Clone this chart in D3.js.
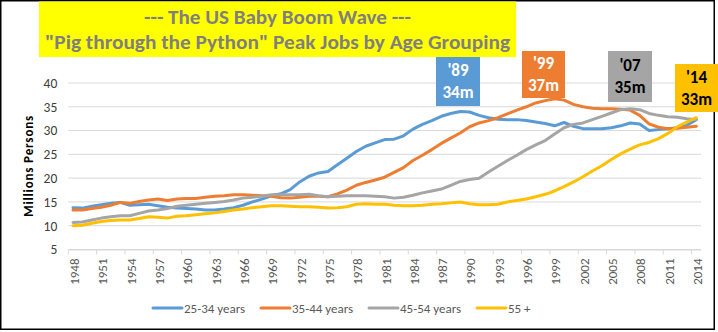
<!DOCTYPE html>
<html>
<head>
<meta charset="utf-8">
<script src="https://cdn.jsdelivr.net/npm/d3@7"></script>
<style>
  body { margin: 0; background: #fff; }
  svg { display: block; font-family: Carlito, Lato, "Open Sans", sans-serif; }
</style>
</head>
<body>
<div id="chart"></div>
<script>
// years on the category axis
const years = d3.range(1948, 2015);
const yTicks = [5, 10, 15, 20, 25, 30, 35, 40];

// employment by age group, millions
const age25to34 = [13.8, 13.7, 14.1, 14.4, 14.7, 14.9, 14.3, 14.4, 14.5, 14.2,
  13.9, 13.7, 13.6, 13.5, 13.3, 13.3, 13.5, 13.8, 14.3, 15.0,
  15.6, 16.3, 16.7, 17.6, 19.2, 20.4, 21.1, 21.4, 22.8, 24.2,
  25.6, 26.7, 27.4, 28.1, 28.2, 28.9, 30.3, 31.3, 32.1, 33.0,
  33.6, 34.0, 33.9, 33.2, 32.7, 32.4, 32.3, 32.3, 32.1, 31.8,
  31.5, 31.0, 31.7, 30.9, 30.4, 30.4, 30.4, 30.6, 31.0, 31.6,
  31.4, 30.0, 30.2, 30.4, 30.6, 31.1, 32.3];
const age35to44 = [13.3, 13.3, 13.6, 13.9, 14.3, 14.9, 14.7, 15.1, 15.4, 15.6,
  15.3, 15.6, 15.7, 15.7, 16.0, 16.2, 16.3, 16.5, 16.5, 16.4,
  16.3, 16.2, 15.9, 15.8, 16.0, 16.2, 16.2, 16.1, 16.7, 17.5,
  18.5, 19.1, 19.6, 20.2, 21.2, 22.2, 23.7, 24.8, 26.0, 27.3,
  28.4, 29.5, 30.8, 31.6, 32.1, 32.7, 33.5, 34.3, 35.0, 35.8,
  36.3, 36.7, 36.4, 35.5, 35.0, 34.7, 34.6, 34.6, 34.5, 34.3,
  33.2, 31.4, 30.7, 30.4, 30.5, 30.7, 30.9];
const age45to54 = [10.7, 10.8, 11.2, 11.6, 11.9, 12.1, 12.1, 12.6, 13.1, 13.3,
  13.6, 14.1, 14.3, 14.5, 14.7, 14.9, 15.1, 15.4, 15.8, 16.0,
  16.2, 16.5, 16.5, 16.5, 16.5, 16.6, 16.3, 16.1, 16.2, 16.3,
  16.3, 16.3, 16.2, 16.1, 15.8, 16.0, 16.4, 16.9, 17.3, 17.7,
  18.5, 19.3, 19.7, 20.0, 21.3, 22.5, 23.7, 24.8, 26.0, 27.0,
  27.9, 29.3, 30.6, 31.3, 31.6, 32.3, 33.0, 33.7, 34.4, 34.6,
  34.4, 33.6, 33.2, 32.9, 32.8, 32.5, 32.3];
const age55plus = [10.0, 10.1, 10.5, 10.9, 11.1, 11.2, 11.2, 11.5, 11.9, 11.8,
  11.6, 12.0, 12.1, 12.3, 12.5, 12.7, 13.0, 13.3, 13.5, 13.8,
  14.0, 14.2, 14.2, 14.1, 14.0, 14.0, 13.9, 13.7, 13.8, 14.0,
  14.5, 14.6, 14.5, 14.5, 14.3, 14.2, 14.2, 14.3, 14.5, 14.6,
  14.8, 15.0, 14.6, 14.4, 14.4, 14.5, 15.0, 15.3, 15.6, 16.1,
  16.6, 17.3, 18.2, 19.2, 20.3, 21.5, 22.6, 23.9, 25.1, 26.1,
  27.0, 27.5, 28.3, 29.4, 30.8, 31.8, 32.7];

const seriesNames = ["25-34 years", "35-44 years", "45-54 years", "55 +"];
const seriesValues = [age25to34, age35to44, age45to54, age55plus];
const seriesColors = ["#5b9bd5", "#ed7d31", "#a5a5a5", "#ffc000"];

// peak callouts
const peakYears = ["'89", "'99", "'07", "'14"];
const peakValues = ["34m", "37m", "35m", "33m"];
const peakText = ["#fff", "#fff", "#000", "#000"];

const titleLines = ["--- The US Baby Boom Wave ---",
  "\"Pig through the Python\" Peak Jobs by Age Grouping"];

let W = 718, H = 332;
let plot = { left: 68.3, right: 701, top: 83, bottom: 249.5 };

let svg = d3.select("#chart").append("svg")
    .attr("width", W)
    .attr("height", H);

let x = d3.scaleBand().domain(years).range([plot.left, plot.right]),
    y = d3.scaleLinear().domain([5, 40]).range([plot.bottom, plot.top]);

// gridlines
svg.append("g").selectAll("line")
    .data(yTicks)
    .enter().append("line")
    .attr("x1", plot.left).attr("x2", plot.right)
    .attr("y1", d => y(d)).attr("y2", d => y(d))
    .attr("stroke", "#d9d9d9").attr("stroke-width", 1);

// y axis labels
let yAxis = d3.axisLeft(y).tickValues(yTicks).tickSize(0).tickPadding(11);
let gy = svg.append("g")
    .attr("transform", "translate(" + plot.left + ",0)")
    .call(yAxis);
gy.select(".domain").remove();
gy.selectAll("text")
    .style("font-family", "Carlito, Lato, sans-serif")
    .style("font-size", "13.5px")
    .attr("fill", "#404040");

// x axis: labels every 3rd year, ticks on category edges
let labelYears = years.filter((d, i) => i % 3 === 0);
let xAxis = d3.axisBottom(x).tickValues(labelYears).tickSize(0).tickSizeOuter(0);
let gx = svg.append("g")
    .attr("transform", "translate(0," + plot.bottom + ")")
    .call(xAxis);
gx.select(".domain").attr("stroke", "#d9d9d9");
gx.selectAll("text")
    .attr("transform", "rotate(-90)")
    .attr("x", -9)
    .attr("y", 0)
    .attr("dy", "0.45em")
    .style("text-anchor", "end")
    .style("font-family", "Carlito, Lato, sans-serif")
    .style("font-size", "13px")
    .attr("fill", "#595959");

svg.append("g").selectAll("line")
    .data(labelYears)
    .enter().append("line")
    .attr("x1", d => x(d)).attr("x2", d => x(d))
    .attr("y1", plot.bottom).attr("y2", plot.bottom + 5)
    .attr("stroke", "#d9d9d9");

svg.append("text")
    .attr("transform", "translate(33," + (plot.top + plot.bottom) / 2 + ") rotate(-90)")
    .attr("text-anchor", "middle")
    .attr("textLength", 101)
    .style("font-size", "13px")
    .style("font-weight", "bold")
    .text("Millions Persons");

// series lines
let line = d3.line()
    .x((d, i) => x(years[i]) + x.bandwidth() / 2)
    .y(d => y(d));

svg.append("g").selectAll("path")
    .data(seriesValues)
    .enter().append("path")
    .attr("d", line)
    .attr("fill", "none")
    .attr("stroke", (d, i) => seriesColors[i])
    .attr("stroke-width", 3)
    .attr("stroke-linejoin", "round")
    .attr("stroke-linecap", "round");

// legend
let legendX = [153, 261, 369, 477];
let legend = svg.append("g").selectAll("g")
    .data(seriesNames)
    .enter().append("g")
    .attr("transform", (d, i) => "translate(" + legendX[i] + ",308)");
legend.append("line")
    .attr("x1", 0).attr("x2", 29)
    .attr("stroke", (d, i) => seriesColors[i])
    .attr("stroke-width", 3)
    .attr("stroke-linecap", "round");
legend.append("text")
    .attr("x", 31)
    .attr("dy", "0.35em")
    .style("font-size", "13px")
    .attr("fill", "#595959")
    .text(d => d);

// frame
svg.append("rect")
    .attr("x", 0.75).attr("y", 0.75)
    .attr("width", 713.5).attr("height", 328.5)
    .attr("fill", "none")
    .attr("stroke", "#000")
    .attr("stroke-width", 1.5);

// title box
svg.append("rect")
    .attr("x", 39).attr("y", 1.5)
    .attr("width", 477).attr("height", 55.5)
    .attr("fill", "#ffff00");
let titleBase = [24, 49], titleLen = [267, 465];
svg.append("g").selectAll("text")
    .data(titleLines)
    .enter().append("text")
    .attr("x", 277.5)
    .attr("y", (d, i) => titleBase[i])
    .attr("text-anchor", "middle")
    .attr("textLength", (d, i) => titleLen[i])
    .attr("lengthAdjust", "spacingAndGlyphs")
    .style("font-size", "20px")
    .style("font-weight", "bold")
    .attr("fill", "#7f7f7f")
    .text(d => d);

// callout boxes
let boxes = [
    { x: 436, y: 57, w: 44, h: 49 },
    { x: 522, y: 51, w: 43, h: 47 },
    { x: 608, y: 51, w: 44, h: 51 },
    { x: 675, y: 64, w: 43, h: 48 }
];
let callouts = svg.append("g").selectAll("g")
    .data(peakYears)
    .enter().append("g")
    .attr("transform", (d, i) => "translate(" + boxes[i].x + "," + boxes[i].y + ")");
callouts.append("rect")
    .attr("width", (d, i) => boxes[i].w)
    .attr("height", (d, i) => boxes[i].h)
    .attr("fill", (d, i) => seriesColors[i]);
callouts.append("text")
    .attr("x", (d, i) => boxes[i].w / 2)
    .attr("y", (d, i) => boxes[i].h / 2 - 5.5)
    .attr("text-anchor", "middle")
    .style("font-size", "17px")
    .style("font-weight", "bold")
    .attr("fill", (d, i) => peakText[i])
    .text(d => d);
callouts.append("text")
    .attr("x", (d, i) => boxes[i].w / 2)
    .attr("y", (d, i) => boxes[i].h / 2 + 16.5)
    .attr("text-anchor", "middle")
    .style("font-size", "17px")
    .style("font-weight", "bold")
    .attr("fill", (d, i) => peakText[i])
    .text((d, i) => peakValues[i]);
</script>
</body>
</html>
